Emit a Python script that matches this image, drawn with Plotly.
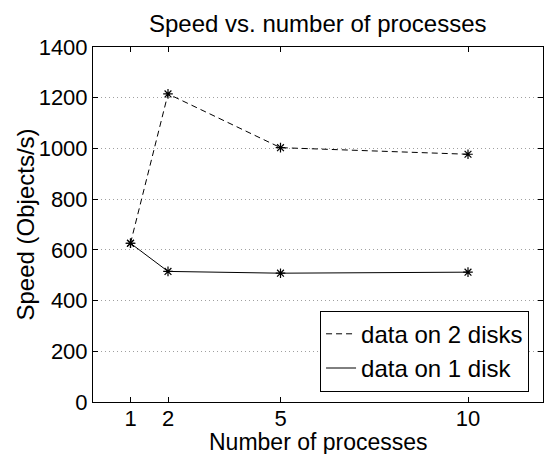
import plotly.graph_objects as go

processes = [1, 2, 5, 10]
speed_two_disks = [626, 1215, 1003, 977]
speed_one_disk = [626, 515, 508, 512]
series_names = ["data on 2 disks", "data on 1 disk"]

FONT = "Liberation Sans, Arial, Helvetica, sans-serif"
TICK_FS = 22
LABEL_FS = 24

fig = go.Figure()

series = [
    (speed_two_disks, series_names[0], "6px,4px"),
    (speed_one_disk, series_names[1], "solid"),
]

for values, name, dash in series:
    # connecting line (legend entry)
    fig.add_trace(go.Scatter(
        x=processes, y=values, mode="lines", name=name,
        line=dict(color="black", width=1, dash=dash),
    ))
    # asterisk markers at each measurement
    fig.add_trace(go.Scatter(
        x=processes, y=values, mode="markers", showlegend=False,
        marker=dict(symbol="asterisk-open", size=8, color="black",
                    line=dict(color="black", width=1.2)),
        hoverinfo="skip",
    ))

fig.update_layout(
    width=545, height=454,
    margin=dict(l=93, r=2, t=47, b=52),
    paper_bgcolor="white", plot_bgcolor="white",
    font=dict(family=FONT, size=TICK_FS, color="black"),
    showlegend=True,
    legend=dict(
        x=0.969, y=0.029, xanchor="right", yanchor="bottom",
        bgcolor="white", bordercolor="black", borderwidth=1,
        font=dict(size=LABEL_FS), tracegroupgap=0, itemwidth=30,
    ),
    annotations=[
        dict(text="Speed vs. number of processes", xref="paper", yref="paper",
             x=0.5, y=1.0, yshift=24, xanchor="center", yanchor="middle",
             showarrow=False, font=dict(size=LABEL_FS)),
        dict(text="Number of processes", xref="paper", yref="paper",
             x=0.5, y=0.0, yshift=-40, xanchor="center", yanchor="middle",
             showarrow=False, font=dict(size=23)),
        dict(text="Speed (Objects/s)", xref="paper", yref="paper",
             x=0.0, y=0.5, xshift=-68, xanchor="center", yanchor="middle",
             textangle=-90, showarrow=False, font=dict(size=LABEL_FS)),
    ],
)

fig.update_xaxes(
    range=[0, 12], tickvals=processes, ticktext=[str(p) for p in processes],
    ticks="inside", ticklen=5, tickcolor="black",
    showline=True, linecolor="black", linewidth=1, mirror="ticks",
    showgrid=False, zeroline=False, automargin=False,
    tickfont=dict(size=TICK_FS), ticklabelstandoff=-3,
)
fig.update_yaxes(
    range=[0, 1400], dtick=200,
    ticks="inside", ticklen=5, tickcolor="black",
    showline=True, linecolor="black", linewidth=1, mirror="ticks",
    showgrid=True, gridcolor="#a0a0a0", griddash="1px,3px", gridwidth=1,
    zeroline=False, automargin=False,
    tickfont=dict(size=TICK_FS),
)

fig.write_html("out.html")
